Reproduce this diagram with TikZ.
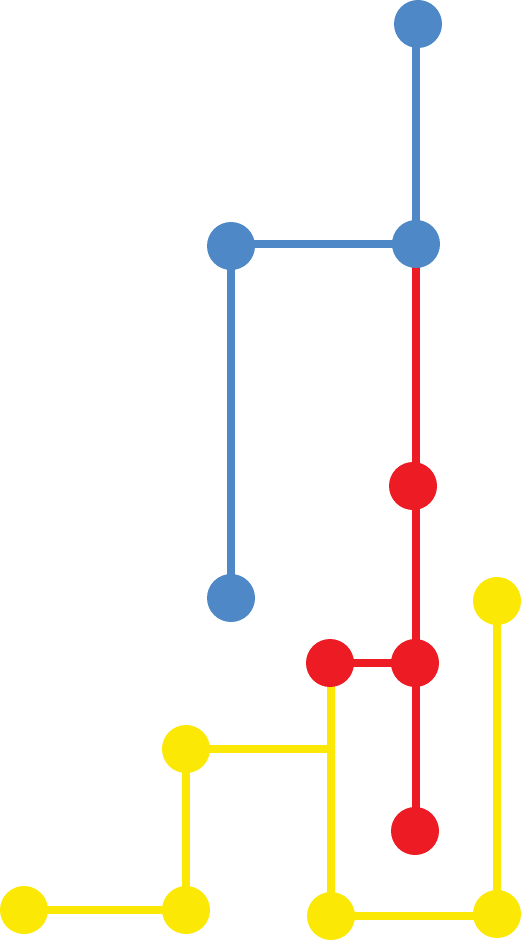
\documentclass[tikz,border=0pt]{standalone}
\usepackage{xcolor}
\usepackage{tikz}
\definecolor{lineblue}{HTML}{4F88C6}
\definecolor{linered}{HTML}{ED1C24}
\definecolor{lineyellow}{HTML}{FCE805}

\begin{document}
\begin{tikzpicture}[
  x=1pt, y=-1pt,
  dot/.style={circle, inner sep=0pt, minimum size=48pt},
  bluedot/.style={dot, fill=lineblue},
  reddot/.style={dot, fill=linered},
  yellowdot/.style={dot, fill=lineyellow},
  track/.style={line width=8pt},
  bluetrack/.style={track, draw=lineblue},
  redtrack/.style={track, draw=linered},
  yellowtrack/.style={track, draw=lineyellow}
]
  \useasboundingbox (0,0) rectangle (522,941);

  % stations
  \coordinate (b1) at (418,24);
  \coordinate (b2) at (416,244);
  \coordinate (b3) at (231,246);
  \coordinate (b4) at (231,598);
  \coordinate (r1) at (413,486);
  \coordinate (r2) at (415,663);
  \coordinate (r3) at (330,663);
  \coordinate (r4) at (415,831);
  \coordinate (y1) at (497,601);
  \coordinate (y2) at (497,914);
  \coordinate (y3) at (331,916);
  \coordinate (y4) at (186,749);
  \coordinate (y5) at (186,910);
  \coordinate (y6) at (24,910);
  \coordinate (fork) at (331,749);

  % lines
  \draw[redtrack] (b2) -- (b2 |- r4);
  \draw[redtrack] (r2) -- (r3);
  \draw[yellowtrack] (y1) -- (y1 |- y3) -- (y3) -- (y3 |- r3);
  \draw[yellowtrack] (y4) -- (fork);
  \draw[yellowtrack] (y6) -- (y5) -- (y4);
  \draw[bluetrack] (b2 |- b1) -- (b2) -- (b3 |- b2) -- (b4);

  % dots
  \node[bluedot] (n-b1) at (b1) {};
  \node[bluedot] (n-b2) at (b2) {};
  \node[bluedot] (n-b3) at (b3) {};
  \node[bluedot] (n-b4) at (b4) {};
  \node[reddot] (n-r1) at (r1) {};
  \node[reddot] (n-r2) at (r2) {};
  \node[reddot] (n-r3) at (r3) {};
  \node[reddot] (n-r4) at (r4) {};
  \node[yellowdot] (n-y1) at (y1) {};
  \node[yellowdot] (n-y2) at (y2) {};
  \node[yellowdot] (n-y3) at (y3) {};
  \node[yellowdot] (n-y4) at (y4) {};
  \node[yellowdot] (n-y5) at (y5) {};
  \node[yellowdot] (n-y6) at (y6) {};
\end{tikzpicture}
\end{document}
